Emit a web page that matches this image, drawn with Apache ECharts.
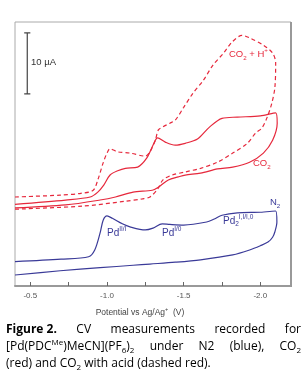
<!DOCTYPE html>
<html><head><meta charset="utf-8">
<script src="https://cdn.jsdelivr.net/npm/echarts@6/dist/echarts.min.js"></script>
<style>html,body{margin:0;padding:0;background:#fff}#c{width:305px;height:380px}</style>
</head><body><div id="c"></div>
<script>
// ---- data (potential in V vs Ag/Ag+, current in µA, arbitrary offset) ----
const n2Potential = [-0.40,-0.70,-0.88,-0.92,-0.955,-0.975,-1.00,-1.035,-1.10,-1.15,-1.25,-1.30,-1.36,-1.41,-1.50,-1.65,-1.70,-1.75,-1.85,-2.00,-2.10,-2.108,-2.095,-2.08,-2.05,-2.00,-1.93,-1.82,-1.61,-1.445,-1.28,-1.17,-0.955,-0.695,-0.40];
const n2Current   = [4.0,4.4,4.8,5.9,8.7,10.8,11.5,11.1,10.2,9.7,9.2,9.5,10.2,10.1,10.0,10.5,11.0,11.6,12.0,12.1,12.3,10.5,8.9,8.0,7.2,6.6,5.9,5.1,4.3,3.9,3.6,3.4,3.0,2.5,1.8];
const co2Potential = [-0.40,-0.73,-0.89,-0.94,-0.98,-1.02,-1.07,-1.12,-1.20,-1.26,-1.30,-1.33,-1.38,-1.445,-1.51,-1.59,-1.67,-1.75,-1.85,-2.00,-2.10,-2.11,-2.08,-2.02,-1.93,-1.82,-1.72,-1.61,-1.51,-1.465,-1.40,-1.335,-1.295,-1.17,-1.055,-0.955,-0.73,-0.40];
const co2Current   = [13.4,14.1,14.6,15.4,16.6,18.2,18.9,19.3,19.5,21.0,23.1,24.3,23.6,23.1,23.4,24.1,26.1,27.5,27.7,27.9,28.4,26.7,23.9,21.8,20.3,19.5,19.2,18.5,18.2,17.9,17.4,16.2,15.7,15.4,14.6,14.1,13.3,12.8];
const acidPotential = [-0.40,-0.695,-0.83,-0.91,-0.94,-0.975,-1.00,-1.02,-1.07,-1.15,-1.25,-1.28,-1.315,-1.335,-1.365,-1.41,-1.445,-1.50,-1.56,-1.63,-1.69,-1.76,-1.815,-1.88,-1.93,-2.02,-2.08,-2.10,-2.095,-2.075,-2.045,-2.01,-1.97,-1.915,-1.82,-1.72,-1.61,-1.51,-1.425,-1.365,-1.33,-1.28,-1.23,-1.12,-0.84,-0.40];
const acidCurrent   = [14.6,14.9,15.2,15.7,17.4,20.2,21.8,22.5,22.0,21.8,21.3,22.0,23.9,25.6,26.1,26.7,27.2,29.3,31.6,33.8,36.2,38.2,40.0,41.1,40.7,39.5,38.2,36.6,32.6,30.0,27.7,25.9,25.1,23.4,21.8,20.3,19.3,18.7,18.2,17.4,15.9,14.6,14.3,13.9,13.1,12.6];
const tickValues  = [-0.5,-0.75,-1.0,-1.25,-1.5,-1.75,-2.0];
const labelValues = [-0.5,-1.0,-1.5,-2.0];
const tickLabels  = ['-0.5','-1.0','-1.5','-2.0'];
const scaleBarPotential = -0.48;
const scaleBarCurrent = [31.5, 41.5];
const scaleBarText = '10 µA';

const RED = '#e6283c', BLUE = '#3a3a98';
const zip = (a, b) => a.map((v, i) => [v, b[i]]);

const chart = echarts.init(document.getElementById('c'), null, {renderer: 'canvas'});

// ---- caption layout (justified) ----
const CF = '"Open Sans", sans-serif';
const CS = 12;
const ctx = document.createElement('canvas').getContext('2d');
function segFont(k) {
  if (k === 'b') return `bold ${CS}px ${CF}`;
  if (k === 'sup' || k === 'sub') return `8px ${CF}`;
  return `${CS}px ${CF}`;
}
function wordWidth(w) { let s = 0; for (const [t, k] of w) { ctx.font = segFont(k); s += ctx.measureText(t).width; } return s; }
const captionLines = [
  {justify: true, words: [[['Figure 2.','b']],[['CV','n']],[['measurements','n']],[['recorded','n']],[['for','n']]]},
  {justify: true, words: [[['[Pd(PDC','n'],['Me','sup'],[')MeCN](PF','n'],['6','sub'],[')','n'],['2','sub']],[['under','n']],[['N2','n']],[['(blue),','n']],[['CO','n'],['2','sub']]]},
  {justify: false, words: [[['(red)','n']],[['and','n']],[['CO','n'],['2','sub']],[['with','n']],[['acid','n']],[['(dashed','n']],[['red).','n']]]}
];
const capLeft = 6, capRight = 301, capY = [330, 347, 364];
const capRich = {
  n: {fontSize: CS, fontFamily: CF, lineHeight: 16, fill: '#000'},
  b: {fontSize: CS, fontFamily: CF, fontWeight: 'bold', lineHeight: 16, fill: '#000'},
  sup: {fontSize: 8, fontFamily: CF, lineHeight: 6, verticalAlign: 'top', fill: '#000'},
  sub: {fontSize: 8, fontFamily: CF, lineHeight: 6, verticalAlign: 'bottom', fill: '#000'}
};
const graphics = [];
captionLines.forEach((line, li) => {
  const widths = line.words.map(wordWidth);
  const total = widths.reduce((a, b) => a + b, 0);
  ctx.font = segFont('n');
  const gap = line.justify ? (capRight - capLeft - total) / (line.words.length - 1) : ctx.measureText(' ').width;
  let x = capLeft;
  line.words.forEach((w, i) => {
    graphics.push({type: 'text', x: x, y: capY[li], style: {
      text: w.map(([t, k]) => `{${k}|${t}}`).join(''), rich: capRich,
      verticalAlign: 'middle', align: 'left', fill: '#000', fontSize: CS, fontFamily: CF}});
    x += widths[i] + gap;
  });
});

// ---- in-plot annotations ----
const LF = '"Liberation Sans", Arial, sans-serif';
function labelRich(color, size) {
  return {
    n: {fontSize: size, fontFamily: LF, lineHeight: 14, fill: color},
    sup: {fontSize: size * 0.65, fontFamily: LF, lineHeight: 5, verticalAlign: 'top', fill: color},
    sub: {fontSize: size * 0.65, fontFamily: LF, lineHeight: 5, verticalAlign: 'bottom', fill: color}
  };
}
const annotations = [
  {x: 229, y: 54, text: '{n|CO}{sub|2}{n| + H}{sup|+}', color: RED, size: 9.5},
  {x: 253, y: 163, text: '{n|CO}{sub|2}', color: RED, size: 9.5},
  {x: 270, y: 202, text: '{n|N}{sub|2}', color: BLUE, size: 9.5},
  {x: 107, y: 233, text: '{n|Pd}{sup|II/I}', color: BLUE, size: 10},
  {x: 162, y: 233, text: '{n|Pd}{sup|I/0}', color: BLUE, size: 10},
  {x: 223, y: 221, text: '{n|Pd}{sub|2}{sup|I,I/I,0}', color: BLUE, size: 10},
  {x: 31, y: 62, text: '{n|' + scaleBarText + '}', color: '#333', size: 9.5},
  {x: 140, y: 313, text: '{n|Potential vs Ag/Ag}{sup|+}{n|  (V)}', color: '#444', size: 8.5, center: true}
];
annotations.forEach(a => graphics.push({type: 'text', x: a.x, y: a.y, style: {
  text: a.text, rich: labelRich(a.color, a.size), verticalAlign: 'middle', align: a.center ? 'center' : 'left', fill: a.color}}));
// right frame edge (darker)
graphics.push({type: 'line', shape: {x1: 291, y1: 22, x2: 291, y2: 287}, style: {stroke: '#999', lineWidth: 2}});

const lineBase = {type: 'line', showSymbol: false, symbol: 'none', smooth: 0.3, silent: true, animation: false};

chart.setOption({
  animation: false,
  grid: {left: 15, right: 14, top: 22, bottom: 94, show: true, borderColor: '#aaa', borderWidth: 1},
  xAxis: {
    type: 'value', min: -2.2, max: -0.4, inverse: true,
    axisLine: {show: true, lineStyle: {color: '#999', width: 2}},
    axisTick: {show: true, inside: true, length: 4, customValues: tickValues, lineStyle: {color: '#666', width: 1}},
    axisLabel: {show: true, customValues: labelValues, margin: 6, color: '#555', fontSize: 8, fontFamily: LF,
      formatter: v => tickLabels[labelValues.findIndex(x => Math.abs(x - v) < 1e-6)] || ''},
    splitLine: {show: false}
  },
  yAxis: {type: 'value', min: 0, max: 43.3, show: false, splitLine: {show: false}},
  series: [
    Object.assign({}, lineBase, {name: 'N2', data: zip(n2Potential, n2Current), lineStyle: {color: BLUE, width: 1.2}}),
    Object.assign({}, lineBase, {name: 'CO2', data: zip(co2Potential, co2Current), lineStyle: {color: RED, width: 1.2}}),
    Object.assign({}, lineBase, {name: 'CO2 + H+', data: zip(acidPotential, acidCurrent), lineStyle: {color: RED, width: 1.2, type: [4, 3]}}),
    Object.assign({}, lineBase, {name: 'scale', smooth: false, data: [[scaleBarPotential, scaleBarCurrent[0]], [scaleBarPotential, scaleBarCurrent[1]]], lineStyle: {color: '#444', width: 1.2}}),
    Object.assign({}, lineBase, {name: 'capLow', smooth: false, data: [[scaleBarPotential + 0.02, scaleBarCurrent[0]], [scaleBarPotential - 0.02, scaleBarCurrent[0]]], lineStyle: {color: '#444', width: 1.2}}),
    Object.assign({}, lineBase, {name: 'capHigh', smooth: false, data: [[scaleBarPotential + 0.02, scaleBarCurrent[1]], [scaleBarPotential - 0.02, scaleBarCurrent[1]]], lineStyle: {color: '#444', width: 1.2}})
  ],
  graphic: graphics
});
</script>
</body></html>
